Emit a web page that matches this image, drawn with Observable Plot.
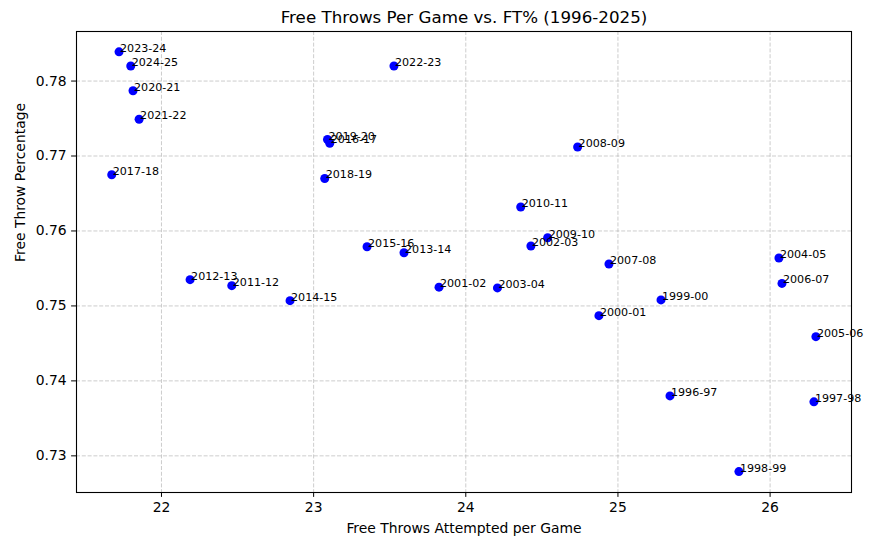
<!DOCTYPE html>
<html>
<head>
<meta charset="utf-8">
<script src="https://cdn.jsdelivr.net/npm/d3@7"></script>
<script src="https://cdn.jsdelivr.net/npm/@observablehq/plot@0.6"></script>
<style>
  html, body { margin: 0; padding: 0; background: white; }
</style>
</head>
<body>
<div id="chart"></div>
<script>
const seasons = ["1996-97","1997-98","1998-99","1999-00","2000-01","2001-02","2002-03","2003-04","2004-05","2005-06","2006-07","2007-08","2008-09","2009-10","2010-11","2011-12","2012-13","2013-14","2014-15","2015-16","2016-17","2017-18","2018-19","2019-20","2020-21","2021-22","2022-23","2023-24","2024-25"];
const ftaPerGame = [25.342,26.288,25.795,25.283,24.875,23.824,24.428,24.208,26.058,26.301,26.078,24.941,24.735,24.538,24.361,22.462,22.188,23.594,22.845,23.351,23.106,21.673,23.073,23.091,21.813,21.853,23.528,21.721,21.798];
const ftPct = [0.7380,0.7372,0.7279,0.7508,0.7487,0.7525,0.7580,0.7524,0.7564,0.7459,0.7530,0.7556,0.7712,0.7591,0.7632,0.7527,0.7535,0.7571,0.7507,0.7579,0.7717,0.7675,0.7670,0.7722,0.7787,0.7749,0.7820,0.7839,0.7820];
const xTicks = [22, 23, 24, 25, 26];
const yTicks = [0.73, 0.74, 0.75, 0.76, 0.77, 0.78];

const data = seasons.map((s, i) => ({season: s, fta: ftaPerGame[i], pct: ftPct[i]}));

const gridStyle = {stroke: "#b0b0b0", strokeOpacity: 0.7, strokeWidth: 0.9, strokeDasharray: "4,1.8"};

const chart = Plot.plot({
  width: 894,
  height: 553,
  marginLeft: 76,
  marginRight: 43,
  marginTop: 31,
  marginBottom: 61,
  style: {fontFamily: "DejaVu Sans", fontSize: "13.9px", color: "black", background: "white"},
  x: {domain: [21.4415, 26.535], label: null},
  y: {domain: [0.72511, 0.78661], label: null},
  marks: [
    Plot.gridX(xTicks, gridStyle),
    Plot.gridY(yTicks, gridStyle),
    Plot.frame({stroke: "black", strokeWidth: 1.1}),
    Plot.dot(data, {x: "fta", y: "pct", r: 4.5, fill: "blue"}),
    Plot.text(data, {x: "fta", y: "pct", text: "season", textAnchor: "start", lineAnchor: "bottom", dx: 1, fontSize: 11.1, fill: "black"}),
    Plot.axisX(xTicks, {tickSize: 4.9, tickPadding: 4.9, label: null, fontSize: 13.9, tickFormat: d3.format("d")}),
    Plot.axisY(yTicks, {tickSize: 4.9, tickPadding: 4.9, label: null, fontSize: 13.9, tickFormat: d3.format(".2f")}),
    Plot.text(["Free Throws Attempted per Game"], {frameAnchor: "bottom", lineAnchor: "middle", dy: 36, fontSize: 13.9, fill: "black"}),
    Plot.text(["Free Throw Percentage"], {frameAnchor: "left", lineAnchor: "middle", dx: -56, rotate: -90, fontSize: 13.9, fill: "black"}),
    Plot.text(["Free Throws Per Game vs. FT% (1996-2025)"], {frameAnchor: "top", lineAnchor: "middle", dy: -14, fontSize: 16.7, fill: "black"})
  ]
});
document.getElementById("chart").appendChild(chart);
</script>
</body>
</html>
